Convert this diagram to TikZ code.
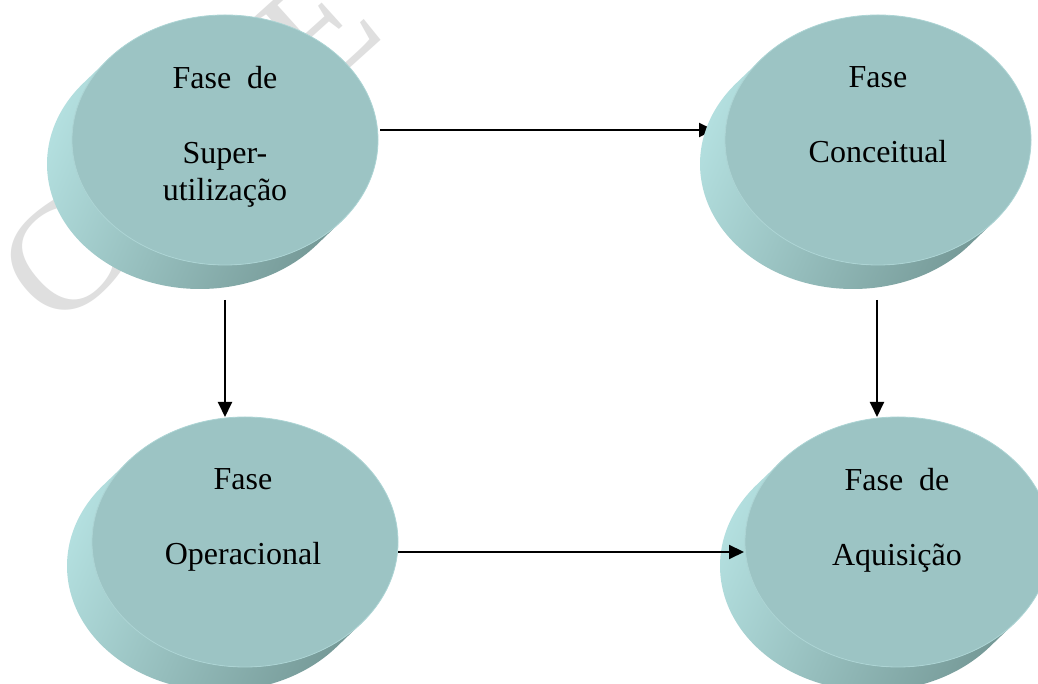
\documentclass[tikz,border=0pt]{standalone}
\usepackage{fontspec}
\setmainfont{Liberation Serif}
\usetikzlibrary{arrows.meta,calc,shapes.geometric}

\definecolor{facecol}{HTML}{9CC4C4}
\definecolor{sidelight}{HTML}{B4E0E0}
\definecolor{sidedark}{HTML}{769A98}
\definecolor{rimcol}{HTML}{ACD4D4}
\definecolor{markcol}{HTML}{DFDFDF}

% Side band of a disc: swept from the top face towards the lower left
\newcommand\discside[1]{%
  \shade[top color=sidelight, bottom color=sidedark, shading angle=66]
    ($(#1)+(-116.5,81)$) -- ++(-25,-24)
    arc[start angle=139.6, end angle=319.6, x radius=153, y radius=125]
    -- ++(25,24)
    arc[start angle=319.6, end angle=139.6, x radius=153, y radius=125]
    -- cycle;}

\begin{document}
\begin{tikzpicture}[x=1pt,y=1pt,
  discface/.style={shape=ellipse, minimum width=306pt, minimum height=250pt,
    inner sep=0pt, outer sep=0pt, fill=facecol, draw=rimcol, line width=0.8pt},
  disctext/.style={anchor=north, align=center, inner sep=0pt,
    font=\fontsize{32}{37.5}\selectfont},
  flow/.style={line width=2pt, -{Triangle[length=15pt,width=14pt]}},
  watermark/.style={text=markcol, inner sep=0pt, rotate=42, anchor=base west,
    font=\fontsize{155}{155}\selectfont}]

\clip (0,0) rectangle (1038,684);
\fill[white] (0,0) rectangle (1038,684);

% faint background stamp letters
\node[watermark] (wmc) at (56,351) {C};
\node[watermark] (wme) at ($(56,351)+(261,235)$) {E};

% disc centres
\coordinate (ctl) at (225,544);
\coordinate (ctr) at (878,544);
\coordinate (cbl) at (245,142);
\coordinate (cbr) at (898,142);

% upper discs and the connector that runs behind the right one
\discside{ctl}
\node[discface] (tl) at (ctl) {};
\coordinate (trw) at ($(ctr)+(-153,0)$);
\draw[flow] ($(tl.east)+(2,10)$) -- ($(trw)+(-11,10)$);
\discside{ctr}
\node[discface] (tr) at (ctr) {};

% lower discs
\discside{cbl}
\node[discface] (bl) at (cbl) {};
\discside{cbr}
\node[discface] (br) at (cbr) {};

% labels
\node[disctext] (tlt) at ($(tl.center)+(0,74)$) {Fase~~de\\[37.5pt]Super-\\utilização};
\node[disctext] (trt) at ($(tr.center)+(0,74)$) {Fase\\[37.5pt]Conceitual};
\node[disctext] (blt) at ($(bl.center)+(-2,74)$) {Fase\\[37.5pt]Operacional};
\node[disctext] (brt) at ($(br.center)+(-1,74)$) {Fase~~de\\[37.5pt]Aquisição};

% remaining connectors
\draw[flow] ($(tl.south)+(0,-35)$) -- (tl.south |- bl.north);
\draw[flow] ($(tr.south)+(-1,-35)$) -- ($(tr.south |- br.north)+(-1,0)$);
\draw[flow] ($(bl.east)+(0,-10)$) -- ($(br.west)+(-1,-10)$);

\end{tikzpicture}
\end{document}
